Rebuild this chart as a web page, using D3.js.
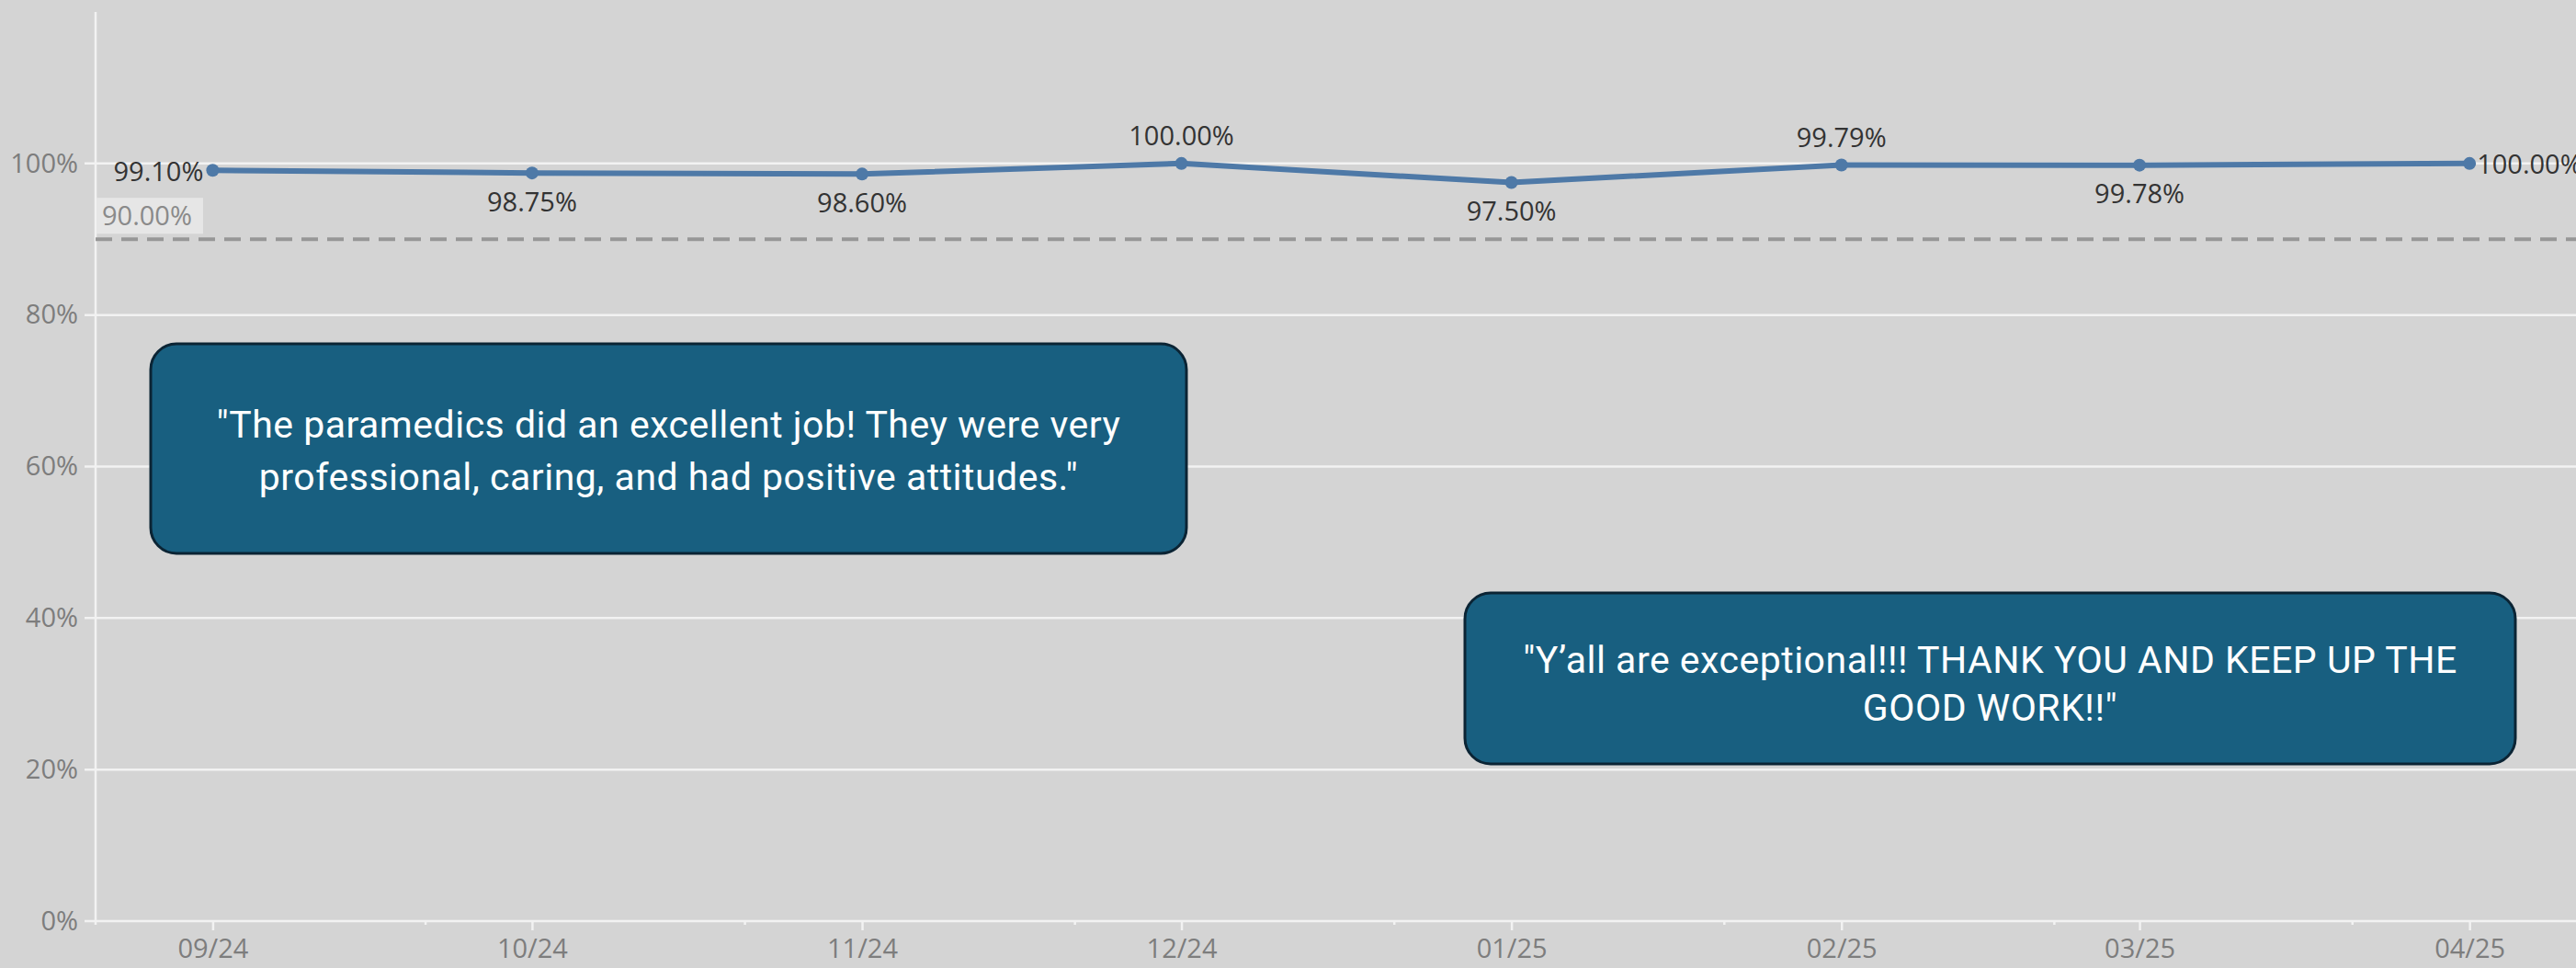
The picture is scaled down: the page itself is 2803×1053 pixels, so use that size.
<!DOCTYPE html>
<html>
<head>
<meta charset="utf-8">
<script src="https://cdn.jsdelivr.net/npm/d3@7"></script>
<style>
  html, body { margin: 0; padding: 0; background: #d4d4d4; }
  svg { display: block; }
</style>
</head>
<body>
<div id="chart"></div>
<script>
// data
const months = ["2024-09-01", "2024-10-01", "2024-11-01", "2024-12-01",
                "2025-01-01", "2025-02-01", "2025-03-01", "2025-04-01"];
const values = [0.991, 0.9875, 0.986, 1.0, 0.975, 0.9979, 0.9978, 1.0];
const labelPos = ["left", "below", "below", "above", "below", "above", "below", "right"];
const yTicks = [0, 0.2, 0.4, 0.6, 0.8, 1.0];
const target = 0.9;
const quotes = [
  ["\"The paramedics did an excellent job! They were very", "professional, caring, and had positive attitudes.\""],
  ["\"Y\u2019all are exceptional!!! THANK YOU AND KEEP UP THE", "GOOD WORK!!\""]
];

const width = 2803, height = 1053;
const parse = d3.timeParse("%Y-%m-%d");
const data = months.map((m, i) => ({ date: parse(m), value: values[i], pos: labelPos[i] }));

const svg = d3.select("#chart").append("svg")
  .attr("width", width).attr("height", height);

svg.append("rect").attr("width", width).attr("height", height).attr("fill", "#d4d4d4");

const x = d3.scaleTime()
  .domain([parse("2024-08-21"), parse("2025-04-11")])
  .range([104, width]);
const y = d3.scaleLinear().domain([0, 1.2]).range([1002, 13]);

const font = "'Open Sans', sans-serif";

// gridlines
svg.append("g").selectAll("line").data(yTicks).join("line")
  .attr("x1", 92).attr("x2", width)
  .attr("y1", d => y(d)).attr("y2", d => y(d))
  .attr("stroke", "#f2f2f2").attr("stroke-width", 2.5);

// y axis
const yAxis = svg.append("g").attr("transform", "translate(104,0)")
  .call(d3.axisLeft(y).tickValues(yTicks).tickFormat(d3.format(".0%")).tickSize(0).tickPadding(19));
yAxis.select(".domain").remove();
yAxis.selectAll("text").attr("font-family", font).attr("font-size", 29).attr("fill", "#7d7d7d");
svg.append("line").attr("x1", 104).attr("x2", 104).attr("y1", y(1.2)).attr("y2", y(0) + 4)
  .attr("stroke", "#f2f2f2").attr("stroke-width", 2.5);

// x axis
const xAxis = svg.append("g").attr("transform", `translate(0,${y(0)})`)
  .call(d3.axisBottom(x).ticks(d3.timeMonth.every(1)).tickFormat(d3.timeFormat("%m/%y"))
    .tickSize(10).tickPadding(9));
xAxis.select(".domain").remove();
xAxis.selectAll("line").attr("stroke", "#f2f2f2").attr("stroke-width", 2.5);
xAxis.selectAll("text").attr("font-family", font).attr("font-size", 29).attr("fill", "#7d7d7d");

// minor ticks on the 21st
const minor = d3.timeMonth.range(parse("2024-08-01"), parse("2025-04-02"))
  .map(d => d3.timeDay.offset(d, 20)).filter(d => d > x.domain()[0] && d < x.domain()[1]);
svg.append("g").selectAll("line").data(minor).join("line")
  .attr("x1", d => x(d)).attr("x2", d => x(d))
  .attr("y1", y(0)).attr("y2", y(0) + 4)
  .attr("stroke", "#f2f2f2").attr("stroke-width", 2.5);

// reference line
svg.append("line").attr("x1", 104).attr("x2", width)
  .attr("y1", y(target)).attr("y2", y(target))
  .attr("stroke", "#979797").attr("stroke-width", 4).attr("stroke-dasharray", "18,10");
svg.append("rect").attr("x", 105).attr("y", y(target) - 45).attr("width", 116).attr("height", 39)
  .attr("fill", "#e6e6e6");
svg.append("text").attr("x", 111).attr("y", y(target) - 15)
  .attr("font-family", font).attr("font-size", 29).attr("fill", "#8a8a8a")
  .text(d3.format(".2%")(target));

// line + points
svg.append("path").datum(data)
  .attr("d", d3.line().x(d => x(d.date)).y(d => y(d.value)))
  .attr("fill", "none").attr("stroke", "#4e79a7").attr("stroke-width", 6)
  .attr("stroke-linejoin", "round");
svg.append("g").selectAll("circle").data(data).join("circle")
  .attr("cx", d => x(d.date)).attr("cy", d => y(d.value)).attr("r", 7)
  .attr("fill", "#4e79a7");

// data labels
svg.append("g").selectAll("text").data(data).join("text")
  .attr("font-family", font).attr("font-size", 29).attr("fill", "#333")
  .attr("dominant-baseline", "central")
  .attr("text-anchor", d => d.pos === "left" ? "end" : d.pos === "right" ? "start" : "middle")
  .attr("x", d => x(d.date) + (d.pos === "left" ? -10 : d.pos === "right" ? 8 : 0))
  .attr("y", d => y(d.value) + (d.pos === "above" ? -31 : d.pos === "below" ? 30 : 0))
  .text(d => d3.format(".2%")(d.value));

// annotation boxes
const boxes = [
  { x0: 164, y0: 374, x1: 1291, y1: 602, base: 476, gap: 57 },
  { x0: 1594, y0: 645, x1: 2737, y1: 831, base: 732, gap: 52 }
];
boxes.forEach((b, i) => {
  svg.append("rect").attr("x", b.x0).attr("y", b.y0)
    .attr("width", b.x1 - b.x0).attr("height", b.y1 - b.y0)
    .attr("rx", 28).attr("fill", "#185f80").attr("stroke", "#0b2434").attr("stroke-width", 3);
  svg.append("g").selectAll("text").data(quotes[i]).join("text")
    .attr("x", (b.x0 + b.x1) / 2).attr("y", (d, j) => b.base + j * b.gap)
    .attr("text-anchor", "middle").attr("font-family", "Roboto, sans-serif")
    .attr("font-size", 41).attr("letter-spacing", 0.5).attr("fill", "#ffffff")
    .text(d => d);
});
</script>
</body>
</html>
